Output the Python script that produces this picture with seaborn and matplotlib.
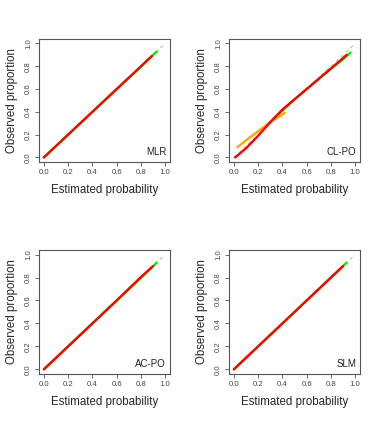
import numpy as np
import matplotlib
matplotlib.use("Agg")
import matplotlib.pyplot as plt
import seaborn as sns

# calibration curves (estimated prob -> observed proportion)
panels = ["MLR", "CL-PO", "AC-PO", "SLM"]

mlr_green_x = [0.0, 0.2, 0.4, 0.6, 0.8, 0.93]
mlr_green_y = [0.0, 0.2, 0.4, 0.6, 0.795, 0.93]
mlr_red_x = [0.0, 0.2, 0.4, 0.6, 0.8, 0.89]
mlr_red_y = [0.0, 0.2, 0.4, 0.6, 0.8, 0.89]

clpo_green_x = [0.25, 0.4, 0.5, 0.6, 0.7, 0.8, 0.9, 0.96]
clpo_green_y = [0.26, 0.41, 0.51, 0.6, 0.69, 0.78, 0.86, 0.92]
clpo_orange_x = [0.03, 0.1, 0.2, 0.3, 0.42]
clpo_orange_y = [0.09, 0.15, 0.23, 0.31, 0.39]
clpo_red_x = [0.01, 0.05, 0.1, 0.2, 0.3, 0.4, 0.5, 0.6, 0.7, 0.8, 0.93]
clpo_red_y = [0.0, 0.035, 0.08, 0.19, 0.31, 0.42, 0.51, 0.6, 0.69, 0.78, 0.90]

acpo_green_x = [0.0, 0.2, 0.4, 0.6, 0.8, 0.93]
acpo_green_y = [0.0, 0.2, 0.4, 0.6, 0.795, 0.93]
acpo_red_x = [0.0, 0.2, 0.4, 0.6, 0.8, 0.9]
acpo_red_y = [0.0, 0.2, 0.4, 0.6, 0.805, 0.9]

slm_green_x = [0.0, 0.2, 0.4, 0.6, 0.8, 0.93]
slm_green_y = [0.0, 0.2, 0.4, 0.6, 0.8, 0.93]
slm_red_x = [0.0, 0.2, 0.4, 0.6, 0.8, 0.9]
slm_red_y = [0.0, 0.2, 0.4, 0.6, 0.8, 0.9]

curves = {
    "MLR": [(mlr_green_x, mlr_green_y, "#00ee00"), (mlr_red_x, mlr_red_y, "#ff0000")],
    "CL-PO": [(clpo_green_x, clpo_green_y, "#00ee00"), (clpo_orange_x, clpo_orange_y, "#ffa500"),
              (clpo_red_x, clpo_red_y, "#ff0000")],
    "AC-PO": [(acpo_green_x, acpo_green_y, "#00ee00"), (acpo_red_x, acpo_red_y, "#ff0000")],
    "SLM": [(slm_green_x, slm_green_y, "#00ee00"), (slm_red_x, slm_red_y, "#ff0000")],
}
ticks = [0.0, 0.2, 0.4, 0.6, 0.8, 1.0]

sns.set_style("white")
plt.rcParams["font.family"] = ["Liberation Sans", "DejaVu Sans"]

fig = plt.figure(figsize=(3.8, 4.23), dpi=100)
positions = [
    [0.1026, 0.617, 0.345, 0.291],
    [0.6026, 0.617, 0.345, 0.291],
    [0.1026, 0.116, 0.345, 0.293],
    [0.6026, 0.116, 0.345, 0.293],
]

for name, pos in zip(panels, positions):
    ax = fig.add_axes(pos)
    ax.plot([0, 1], [0, 1], color="#bbbbbb", lw=0.8, ls=(0, (3, 3)))
    for xs, ys, col in curves[name]:
        sns.lineplot(x=xs, y=ys, color=col, lw=1.7, sort=False, ax=ax)
    ax.set_xlim(-0.04, 1.04)
    ax.set_ylim(-0.04, 1.04)
    ax.set_xticks(ticks)
    ax.set_yticks(ticks)
    ax.set_xticklabels([f"{t:.1f}" for t in ticks], fontsize=5.6, color="#444444")
    ax.set_yticklabels([f"{t:.1f}" for t in ticks], fontsize=5.6, color="#444444",
                       rotation=90, va="center")
    ax.tick_params(direction="out", length=3, width=0.6, color="#555555", pad=2,
                   bottom=True, left=True)
    for sp in ax.spines.values():
        sp.set_color("#555555")
        sp.set_linewidth(0.8)
    ax.set_xlabel("Estimated probability", fontsize=8.3, labelpad=6)
    ax.set_ylabel("Observed proportion", fontsize=8.3, labelpad=5)
    ax.text(0.97, 0.04, name, transform=ax.transAxes, ha="right", va="bottom",
            fontsize=7, color="#222222")

fig.savefig("out.png", dpi=100)
